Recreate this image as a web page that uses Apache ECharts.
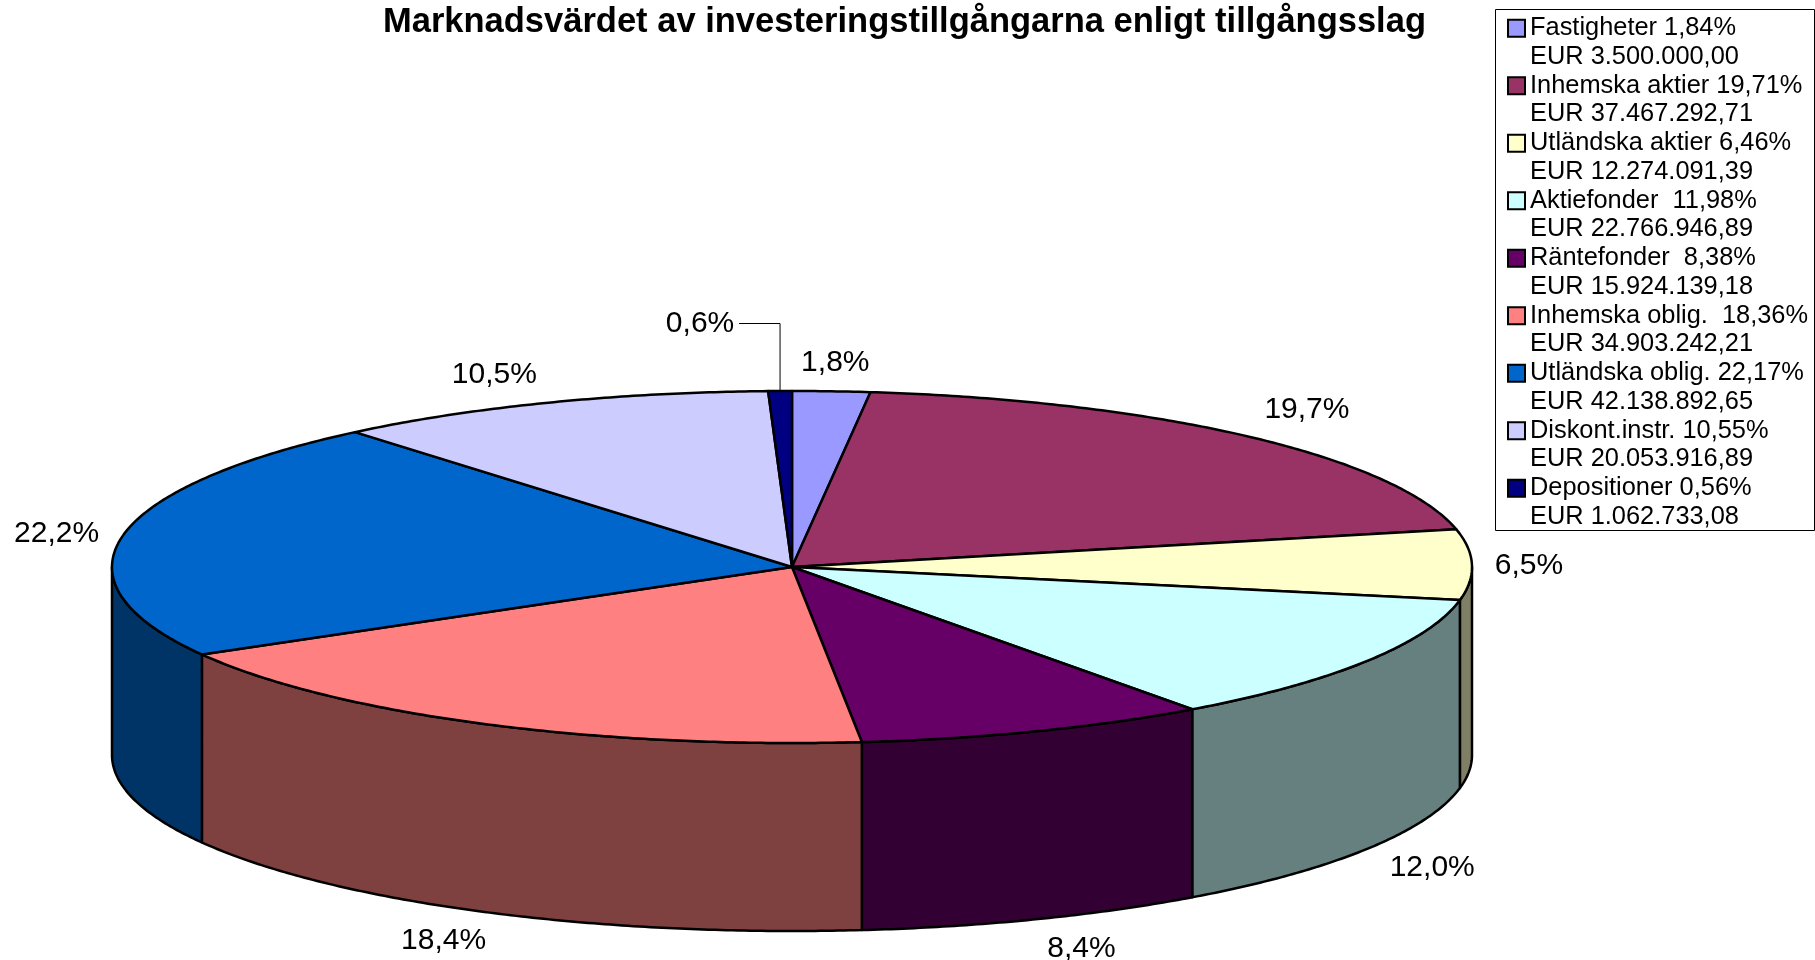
<!DOCTYPE html>
<html>
<head>
<meta charset="utf-8">
<title>Marknadsvärdet av investeringstillgångarna</title>
<script src="https://cdn.jsdelivr.net/npm/echarts@6/dist/echarts.min.js"></script>
<style>
html, body { margin: 0; padding: 0; background: #fff; }
#main { width: 1815px; height: 960px; }
</style>
</head>
<body>
<div id="main"></div>
<script>
var chartTitle = 'Marknadsvärdet av investeringstillgångarna enligt tillgångsslag';
var legendNames = ['Fastigheter 1,84%', 'Inhemska aktier 19,71%', 'Utländska aktier 6,46%', 'Aktiefonder  11,98%', 'Räntefonder  8,38%', 'Inhemska oblig.  18,36%', 'Utländska oblig. 22,17%', 'Diskont.instr. 10,55%', 'Depositioner 0,56%'];
var eurTexts = ['EUR 3.500.000,00', 'EUR 37.467.292,71', 'EUR 12.274.091,39', 'EUR 22.766.946,89', 'EUR 15.924.139,18', 'EUR 34.903.242,21', 'EUR 42.138.892,65', 'EUR 20.053.916,89', 'EUR 1.062.733,08'];
var eurValues = [3500000.00, 37467292.71, 12274091.39, 22766946.89, 15924139.18, 34903242.21, 42138892.65, 20053916.89, 1062733.08];
var percentLabels = ['1,8%', '19,7%', '6,5%', '12,0%', '8,4%', '18,4%', '22,2%', '10,5%', '0,6%'];
var sliceColors = ['#9999FF', '#993366', '#FFFFCC', '#CCFFFF', '#660066', '#FF8080', '#0066CC', '#CCCCFF', '#000080'];

// label offset from the rim point at the middle of each slice
var labelOffsets = [[4, -29], [59, -27], [57, 1], [66, 206], [46, 217], [-38, 217], [-66, -2], [-54, -28], [-80, -67]];

var FONT = '"Liberation Sans", Arial, sans-serif';
var pie = { cx: 792, cy: 567, rx: 680, ry: 176, depth: 188 };

var total = eurValues.reduce(function (a, b) { return a + b; }, 0);
var startAngles = [];
var sum = 0;
eurValues.forEach(function (v) {
    startAngles.push(sum / total * 360);
    sum += v;
});

function rimPoint(deg, dy) {
    var t = deg * Math.PI / 180;
    return [pie.cx + pie.rx * Math.sin(t), pie.cy - pie.ry * Math.cos(t) + (dy || 0)];
}

function arcPoints(from, to, dy) {
    var pts = [];
    var steps = Math.max(2, Math.ceil(Math.abs(to - from) * 2));
    for (var k = 0; k <= steps; k++) {
        pts.push(rimPoint(from + (to - from) * k / steps, dy));
    }
    return pts;
}

// side colour is the top colour at half brightness
function sideColor(hex) {
    var n = parseInt(hex.slice(1), 16);
    return 'rgb(' + [(n >> 16) & 255, (n >> 8) & 255, n & 255].map(function (c) { return Math.floor(c / 2); }).join(',') + ')';
}

function renderSlice(i, params, api) {
    var start = startAngles[i];
    var end = start + api.value(0) / total * 360;
    var mid = (start + end) / 2;
    var children = [];
    var edge = { stroke: '#000', lineWidth: 2.5, lineJoin: 'round' };

    // only the front half of the rim shows
    var a = Math.max(start, 90), b = Math.min(end, 270);
    if (b > a) {
        children.push({
            type: 'polygon',
            z2: 1,
            shape: { points: arcPoints(a, b, 0).concat(arcPoints(b, a, pie.depth)) },
            style: Object.assign({ fill: sideColor(sliceColors[i]) }, edge)
        });
    }
    children.push({
        type: 'polygon',
        z2: 2,
        shape: { points: [[pie.cx, pie.cy]].concat(arcPoints(start, end, 0)) },
        style: Object.assign({ fill: sliceColors[i] }, edge)
    });

    var anchor = rimPoint(mid, 0);
    var off = labelOffsets[i];
    var lx = anchor[0] + off[0], ly = anchor[1] + off[1];
    children.push({
        type: 'text',
        z2: 3,
        style: { text: percentLabels[i], x: lx, y: ly, align: 'center', verticalAlign: 'middle', font: '30px ' + FONT, fill: '#000' }
    });
    // the thin slice gets a leader line
    if (i === 8) {
        children.push({
            type: 'polyline',
            z2: 3,
            shape: { points: [[lx + 39, ly - 0.5], [anchor[0], ly - 0.5], anchor] },
            style: { fill: null, stroke: '#000', lineWidth: 1 }
        });
    }
    return { type: 'group', children: children };
}

var series = legendNames.map(function (name, i) {
    return {
        name: name,
        type: 'custom',
        coordinateSystem: 'none',
        silent: true,
        animation: false,
        clip: false,
        itemStyle: { color: sliceColors[i] },
        renderItem: function (params, api) { return renderSlice(i, params, api); },
        data: [[eurValues[i]]]
    };
});

var myChart = echarts.init(document.getElementById('main'), null, { renderer: 'canvas' });
var option = {
    backgroundColor: '#fff',
    animation: false,
    color: sliceColors,
    title: {
        text: chartTitle,
        left: 378,
        top: 0,
        textStyle: { fontFamily: FONT, fontSize: 34.5, fontWeight: 'bold', color: '#000' }
    },
    graphic: [{
        type: 'rect',
        z: -1,
        shape: { x: 1495.5, y: 9.5, width: 319, height: 521 },
        style: { fill: '#fff', stroke: '#000', lineWidth: 1 }
    }],
    legend: {
        orient: 'vertical',
        left: 1507,
        top: -15,
        padding: 0,
        icon: 'rect',
        itemWidth: 17,
        itemHeight: 17,
        itemGap: -28.75,
        selectedMode: false,
        itemStyle: { borderColor: '#000', borderWidth: 2 },
        textStyle: { fontFamily: FONT, fontSize: 25.4, color: '#000', lineHeight: 28.75 },
        // blank first line keeps the symbol level with the name
        formatter: function (name) {
            return '\n' + name + '\n' + eurTexts[legendNames.indexOf(name)];
        },
        data: legendNames
    },
    series: series
};
myChart.setOption(option);
</script>
</body>
</html>
